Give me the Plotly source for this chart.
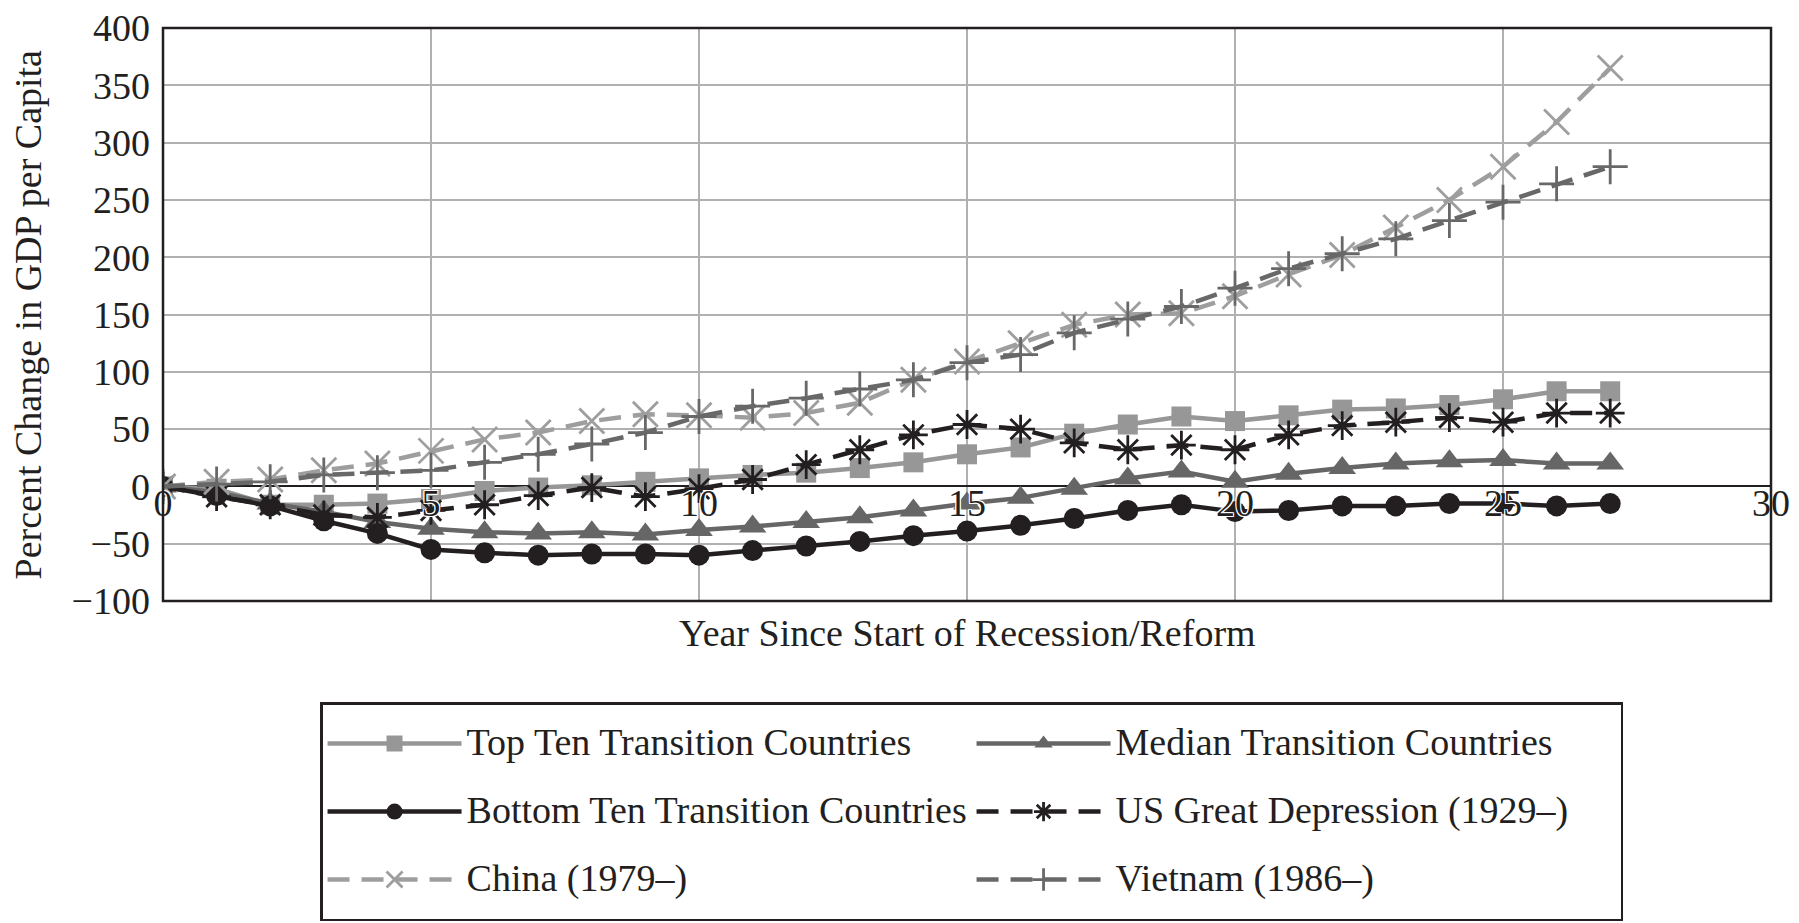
import plotly.graph_objects as go

years = list(range(28))

top_ten = [0, -2, -16, -16, -15, -11, -4, -1, 1, 4, 7, 10, 12, 16, 21, 28, 34, 46, 54, 61,
           57, 62, 67, 68, 71, 76, 83, 83]
median = [0, -5, -15, -22, -31, -37, -40, -41, -40, -42, -38, -35, -31, -27, -21, -15, -10, -2, 7, 13,
          4, 11, 16, 20, 22, 23, 20, 20]
bottom_ten = [0, -8, -17, -30, -41, -55, -58, -60, -59, -59, -60, -56, -52, -48, -43, -39, -34, -28, -21, -16,
              -22, -21, -17, -17, -15, -15, -17, -15]
us_depression = [0, -9, -16, -25, -27, -21, -16, -8, -1, -9, -2, 6, 19, 32, 45, 54, 50, 38, 32, 36,
                 32, 45, 53, 56, 60, 56, 64, 64]
china = [0, 4, 6, 14, 20, 31, 41, 47, 57, 63, 62, 60, 64, 73, 93, 109, 125, 141, 150, 151,
         166, 185, 202, 226, 250, 279, 318, 365]
vietnam = [0, 2, 4, 10, 12, 14, 21, 28, 37, 47, 61, 70, 77, 85, 93, 108, 115, 134, 146, 157,
           173, 190, 203, 216, 232, 248, 264, 279]

series_names = ["Top Ten Transition Countries", "Median Transition Countries",
                "Bottom Ten Transition Countries", "US Great Depression (1929–)",
                "China (1979–)", "Vietnam (1986–)"]

x_ticks = [0, 5, 10, 15, 20, 25, 30]
y_ticks = [-100, -50, 0, 50, 100, 150, 200, 250, 300, 350, 400]

FONT = "Liberation Serif"
INK = "#231f20"
LIGHT = "#979797"
MID = "#666666"
DASH = "22px,12px"

styles = [
    dict(values=top_ten, color=LIGHT, dash="solid", symbol="square", msize=20, open_=False),
    dict(values=median, color=MID, dash="solid", symbol="triangle-up", msize=24, open_=False),
    dict(values=bottom_ten, color=INK, dash="solid", symbol="circle", msize=21, open_=False),
    dict(values=us_depression, color=INK, dash=DASH, symbol="asterisk-open", msize=24, open_=True),
    dict(values=china, color="#9e9e9e", dash=DASH, symbol="x-thin-open", msize=25, open_=True),
    dict(values=vietnam, color="#686868", dash=DASH, symbol="cross-thin-open", msize=25, open_=True),
]

fig = go.Figure()
for name, st in zip(series_names, styles):
    marker = dict(symbol=st["symbol"], size=st["msize"], color=st["color"])
    if st["open_"]:
        marker["line"] = dict(color=st["color"], width=2.8)
    else:
        marker["line"] = dict(width=0)
    fig.add_trace(go.Scatter(
        x=years, y=st["values"], mode="lines+markers",
        name='<span style="font-size:38px;baseline-shift:8px">' + name + '</span>',
        line=dict(color=st["color"], width=4.5, dash=st["dash"]),
        marker=marker,
    ))

fig.update_layout(
    width=1799, height=923,
    margin=dict(l=163, r=28, t=28, b=322, autoexpand=False),
    paper_bgcolor="white", plot_bgcolor="white",
    font=dict(family=FONT, color=INK, size=38),
    showlegend=True,
    legend=dict(
        orientation="h",
        xref="container", yref="container",
        x=0.1779, xanchor="left",
        y=0.2394, yanchor="top",
        bordercolor=INK, borderwidth=2.5,
        bgcolor="white",
        font=dict(family=FONT, size=50, color=INK),
        itemwidth=134,
        entrywidth=500,
        traceorder="normal",
    ),
    xaxis=dict(
        range=[0, 30], tickvals=x_ticks, ticktext=[str(v) for v in x_ticks],
        anchor="free", position=0.2, automargin=False,
        showgrid=True, gridcolor="#b0b0b0", gridwidth=2,
        zeroline=False, showline=False, ticks="", ticklabelstandoff=-9,
        tickfont=dict(family=FONT, size=38, color=INK,
                      shadow="-1px -1px 0 #fff, 1px -1px 0 #fff, -1px 1px 0 #fff, 1px 1px 0 #fff"),
    ),
    yaxis=dict(
        range=[-100, 400], tickvals=y_ticks, automargin=False,
        showgrid=True, gridcolor="#b0b0b0", gridwidth=2,
        zeroline=True, zerolinecolor=INK, zerolinewidth=2,
        showline=False, ticks="", ticklabelstandoff=12,
        tickfont=dict(family=FONT, size=38, color=INK),
    ),
    shapes=[dict(type="rect", xref="paper", yref="paper", x0=0, x1=1, y0=0, y1=1,
                 line=dict(color=INK, width=2.5), layer="above")],
    annotations=[
        dict(text="Year Since Start of Recession/Reform", xref="paper", yref="paper",
             x=0.5, y=-0.0554, xanchor="center", yanchor="middle", showarrow=False,
             font=dict(family=FONT, size=38, color=INK)),
        dict(text="Percent Change in GDP per Capita", xref="paper", yref="paper",
             x=-0.084, y=0.5, xanchor="center", yanchor="middle", textangle=-90,
             showarrow=False, font=dict(family=FONT, size=38, color=INK)),
    ],
)

fig.write_html(
    "out.html",
    config={"displayModeBar": False},
    post_script="document.body.style.margin='0';document.body.style.overflow='hidden';",
)
